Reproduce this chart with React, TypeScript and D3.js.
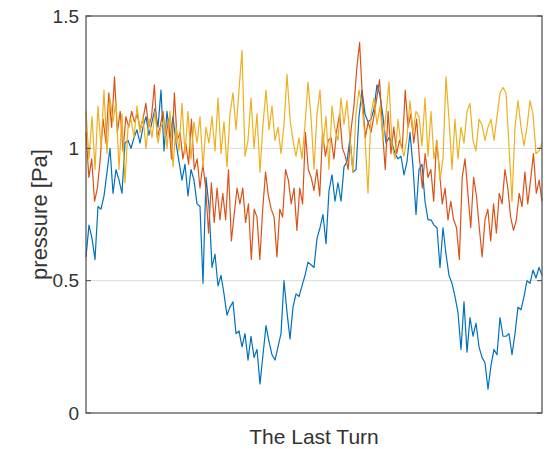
import * as d3 from "d3";

// pressure samples over the last turn
const blue = [
  0.59, 0.71, 0.66, 0.58, 0.78, 0.77, 0.82, 0.91, 1.0, 0.83,
  0.92, 0.88, 0.83, 1.02, 1.03, 1.0, 1.04, 1.07, 1.02, 1.08,
  1.12, 1.05, 1.1, 1.15, 1.08, 1.22, 0.99, 1.14, 1.04, 1.12,
  1.02, 0.95, 0.88, 0.94, 0.82, 0.92, 0.88, 0.79, 0.78, 0.49,
  0.89, 0.78, 0.55, 0.6, 0.48, 0.52, 0.45, 0.37, 0.4, 0.42,
  0.3, 0.31, 0.25, 0.3, 0.2, 0.29, 0.21, 0.24, 0.11, 0.22,
  0.33, 0.27, 0.22, 0.2, 0.25, 0.3, 0.5, 0.38, 0.28, 0.4,
  0.45, 0.44, 0.48, 0.52, 0.57, 0.56, 0.55, 0.66, 0.7, 0.75,
  0.64, 0.84, 0.9, 0.8, 0.87, 0.8, 0.93, 0.95, 1.04, 0.91,
  0.92, 1.12, 1.22, 1.13, 1.1, 1.11, 1.15, 1.24, 1.2, 1.12,
  1.02, 1.04, 1.02, 0.98, 0.96, 0.97, 0.9, 0.95, 1.06, 0.93,
  0.75, 0.92, 0.94, 0.8, 0.73, 0.73, 0.71, 0.7, 0.55, 0.7,
  0.6, 0.52, 0.49, 0.44, 0.38, 0.24, 0.42, 0.23, 0.36, 0.29,
  0.34, 0.25, 0.21, 0.19, 0.09, 0.18, 0.24, 0.22, 0.36, 0.29,
  0.29, 0.3, 0.22, 0.3, 0.4, 0.39, 0.44, 0.5, 0.49, 0.54,
  0.51, 0.55, 0.52,
];

const orange = [
  1.06, 0.89, 0.96, 0.8, 0.85, 0.96, 1.11, 1.02, 1.21, 1.08,
  1.27, 1.06, 1.14, 0.99, 1.12, 1.08, 1.14, 1.1, 1.13, 1.07,
  1.11, 1.17, 1.08, 1.12, 1.24, 1.04, 1.08,
  1.14, 1.04, 1.11, 0.96, 1.21, 1.03, 1.06, 0.96, 1.02, 0.94,
  1.11, 0.92, 0.96, 0.85, 0.94, 0.85, 0.68, 0.87, 0.72, 0.85,
  0.73, 0.83, 0.73, 0.92, 0.65, 0.75,
  0.85, 0.79, 0.85, 0.72, 0.79, 0.58, 0.77, 0.74, 0.58, 0.77,
  0.91, 0.82, 0.77, 0.74, 0.59, 0.77, 0.74, 0.92, 0.88, 0.79,
  0.85, 0.69, 0.85, 0.79, 1.06, 0.92, 0.89,
  0.84, 0.92, 0.82, 1.06, 0.97, 1.03, 1.04, 0.96, 1.07, 1.13,
  1.0, 0.97, 0.92, 1.07, 1.16, 1.3, 1.4, 1.19, 1.04, 1.1,
  1.06, 1.12, 1.19, 1.26, 1.07, 0.92,
  1.14, 0.98, 1.08, 0.98, 1.03, 1.0, 1.22, 1.08, 1.13, 1.02,
  1.11, 0.96, 0.85, 0.98, 0.89, 0.92, 0.8, 1.03, 0.92, 0.79,
  0.85, 0.73, 0.8, 0.73, 0.7, 0.58, 0.89,
  0.96, 0.83, 0.7, 0.89, 0.82, 0.7, 0.59, 0.73, 0.77, 0.65,
  0.79, 0.68, 0.83, 0.79, 0.92, 0.85, 0.74, 0.69, 0.73, 0.83,
  0.78, 0.91, 0.79, 0.88, 0.98, 0.83, 0.88, 0.8,
];

const yellow = [
  1.14, 0.96, 1.12, 0.92, 1.16, 1.0, 1.22, 0.98, 1.19, 1.1,
  1.18, 0.92, 1.13, 0.87, 1.08, 1.11, 1.04, 1.16, 1.06, 1.12,
  1.0, 1.11, 1.04, 1.14, 1.02, 1.08, 1.11, 1.0, 1.14, 0.93,
  1.08, 0.99, 1.17, 0.98, 1.14, 0.96, 1.1, 1.02, 1.12, 0.93,
  1.08, 1.02, 1.12, 0.99, 1.19, 0.98, 1.1, 0.93, 1.13, 1.21,
  1.07, 1.22, 1.37, 0.97, 1.03, 1.19, 1.0, 1.13, 0.91, 1.09,
  1.22, 1.07, 1.16, 1.03, 1.08, 0.98, 1.09, 1.28, 1.11, 1.03,
  0.97, 1.04, 0.96, 1.09, 1.25, 1.12, 0.92, 1.13, 1.22, 1.01,
  1.12, 0.92, 1.16, 1.07, 1.03, 1.19, 1.09, 1.18, 1.03, 0.91,
  1.13, 1.22, 1.16, 1.04, 0.83, 1.13, 1.19, 1.09, 1.16, 1.03,
  1.13, 1.25, 1.01, 0.96, 1.11, 1.01, 0.97, 1.04, 1.18, 1.06,
  1.14, 1.12, 1.01, 1.19, 0.97, 1.14, 0.96, 1.03, 0.88, 0.96,
  1.27, 1.11, 0.92, 1.11, 0.96, 1.08, 1.02, 1.14, 1.17, 1.03,
  0.99, 1.11, 1.09, 1.03, 1.08, 1.11, 1.03, 1.12, 1.21, 1.23,
  1.21, 1.01, 0.8, 1.08, 1.18, 1.08, 1.01, 1.08, 1.18, 1.13,
  0.98, 0.99, 1.02,
];

const yTicks = [0, 0.5, 1, 1.5];
const gridValues = [0.5, 1];

const series = [
  { name: "blue", values: blue, color: "#0072BD" },
  { name: "orange", values: orange, color: "#D95319" },
  { name: "yellow", values: yellow, color: "#EDB120" },
];

export default function App() {
  const W = 555,
    H = 449;
  const margin = { top: 16, right: 13, bottom: 36, left: 86 };
  const innerW = W - margin.left - margin.right;
  const innerH = H - margin.top - margin.bottom;

  const y = d3.scaleLinear().domain([0, 1.5]).range([innerH, 0]);

  const font = "'Liberation Sans', Arial, sans-serif";
  const textColor = "#333";

  return (
    <svg
      width={W}
      height={H}
      style={{ position: "absolute", left: 0, top: 0, background: "#fff" }}
    >
      <g transform={`translate(${margin.left},${margin.top})`}>
        {/* grid */}
        {gridValues.map((v) => (
          <line
            key={v}
            x1={0}
            x2={innerW}
            y1={y(v)}
            y2={y(v)}
            stroke="#dcdcdc"
            strokeWidth={1}
          />
        ))}

        {/* lines */}
        {series.map((s) => {
          const x = d3
            .scaleLinear()
            .domain([0, s.values.length - 1])
            .range([0, innerW]);
          const line = d3
            .line<number>()
            .x((_, i) => x(i))
            .y((d) => y(d));
          return (
            <path
              key={s.name}
              d={line(s.values) ?? ""}
              fill="none"
              stroke={s.color}
              strokeWidth={1.2}
              strokeLinejoin="round"
            />
          );
        })}

        {/* box */}
        <rect
          x={0}
          y={0}
          width={innerW}
          height={innerH}
          fill="none"
          stroke="#4a4a4a"
          strokeWidth={1.2}
        />

        {/* y ticks */}
        {yTicks.map((t) => (
          <g key={t}>
            <line x1={0} x2={5} y1={y(t)} y2={y(t)} stroke="#4a4a4a" />
            <line
              x1={innerW - 5}
              x2={innerW}
              y1={y(t)}
              y2={y(t)}
              stroke="#4a4a4a"
            />
            <text
              x={-7}
              y={y(t)}
              dy="0.35em"
              textAnchor="end"
              fontFamily={font}
              fontSize={19}
              fill={textColor}
            >
              {t}
            </text>
          </g>
        ))}

        <text
          transform={`translate(${-39},${innerH / 2}) rotate(-90)`}
          textAnchor="middle"
          fontFamily={font}
          fontSize={22}
          fill={textColor}
        >
          pressure [Pa]
        </text>

        <text
          x={innerW / 2}
          y={innerH + 31}
          textAnchor="middle"
          fontFamily={font}
          fontSize={21}
          fill={textColor}
        >
          The Last Turn
        </text>
      </g>
    </svg>
  );
}
